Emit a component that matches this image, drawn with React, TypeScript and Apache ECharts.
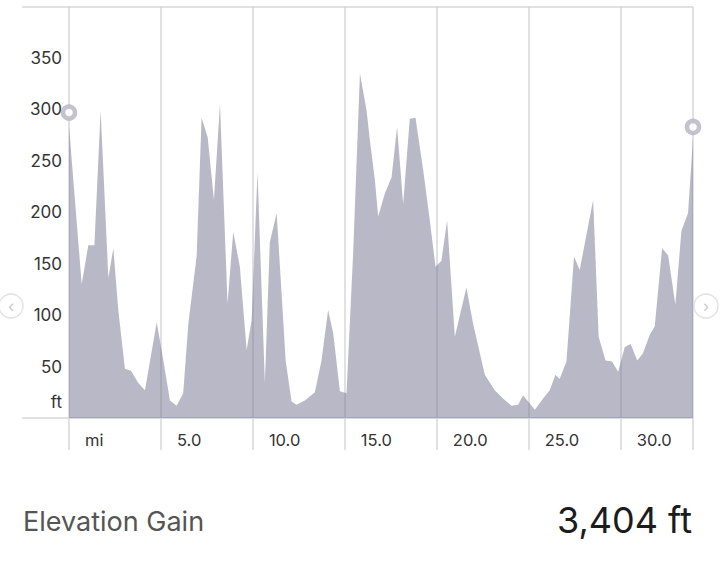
import React, { useEffect, useRef } from "react";
import * as echarts from "echarts";

// Distance along the route (miles) and elevation (ft)
const miles = [
  0.0, 0.69, 1.05, 1.38, 1.72, 2.14, 2.41, 2.68, 3.04, 3.37, 3.77, 4.13, 4.77,
  5.13, 5.49, 5.85, 6.21, 6.49, 6.94, 7.21, 7.54, 7.88, 8.21, 8.62, 8.93, 9.29,
  9.66, 9.93, 10.25, 10.65, 10.92, 11.29, 11.56, 11.78, 12.1, 12.37, 12.83,
  13.37, 13.73, 14.09, 14.37, 14.73, 15.09, 15.45, 15.82, 16.18, 16.36, 16.63,
  16.81, 17.17, 17.54, 17.84, 18.17, 18.53, 18.84, 19.26, 19.62, 19.93, 20.25,
  20.56, 20.98, 21.61, 21.97, 22.61, 23.15, 23.6, 24.06, 24.42, 24.69, 25.33,
  25.78, 26.14, 26.45, 26.68, 27.05, 27.46, 27.77, 28.5, 28.8, 29.17, 29.53,
  29.86, 30.22, 30.54, 30.9, 31.21, 31.58, 31.85, 32.25, 32.58, 32.97, 33.3,
  33.66, 33.93,
];
const elevation = [
  284, 130, 168, 168, 299, 136, 165, 105, 48, 46, 34, 27, 93, 56, 17, 12, 24,
  92, 157, 292, 273, 212, 305, 111, 181, 147, 66, 95, 239, 34, 171, 199, 121,
  56, 16, 13, 17, 25, 56, 105, 82, 26, 24, 160, 335, 299, 270, 232, 196, 218,
  234, 283, 208, 291, 292, 241, 192, 147, 153, 192, 79, 127, 92, 42, 27, 19, 12,
  13, 22, 8, 19, 27, 42, 38, 55, 157, 144, 212, 79, 56, 55, 45, 69, 72, 56, 63,
  81, 89, 165, 158, 110, 182, 199, 272,
];

// Start / finish markers
const markerMiles = [0, 33.93];
const markerValues = [297, 283];

// Axis settings
const xMax = 33.93;
const xInterval = 5;
const yMax = 400;
const yInterval = 50;
const yLabelValues = [16, 50, 100, 150, 200, 250, 300, 350];
const yEdgeTicks = [0, 400];

const summaryLabel = "Elevation Gain";
const summaryValue = "3,404 ft";

const GRID = "#d6d6dc";
const FONT = "Inter, 'Noto Sans', sans-serif";

export default function App() {
  const ref = useRef<HTMLDivElement>(null);

  useEffect(() => {
    if (!ref.current) return;
    const chart = echarts.init(ref.current, undefined, { renderer: "svg" });
    chart.setOption({
      animation: false,
      backgroundColor: "#ffffff",
      grid: { left: 69, right: 27, top: 6.6, bottom: 145, containLabel: false },
      xAxis: {
        type: "value",
        min: 0,
        max: xMax,
        interval: xInterval,
        axisLine: { show: true, lineStyle: { color: GRID, width: 1.5 } },
        axisTick: { show: true, length: 32, lineStyle: { color: GRID, width: 1.5 } },
        splitLine: { show: true, lineStyle: { color: GRID, width: 1.5 } },
        axisLabel: {
          show: true,
          align: "left",
          padding: [0, 0, 0, 16],
          margin: 13,
          color: "#333333",
          fontSize: 16.5,
          fontFamily: FONT,
          showMaxLabel: true,
          formatter: (v: number) => {
            if (v === 0) return "mi";
            if (Math.abs(v % xInterval) > 1e-6) return "";
            return v.toFixed(1);
          },
        },
      },
      yAxis: {
        type: "value",
        min: 0,
        max: yMax,
        interval: yInterval,
        axisLine: { show: false },
        axisTick: {
          show: true,
          length: 47,
          customValues: yEdgeTicks,
          lineStyle: { color: GRID, width: 1.5 },
        },
        splitLine: { show: true, lineStyle: { color: GRID, width: 1.5 } },
        axisLabel: {
          show: true,
          customValues: yLabelValues,
          margin: 7,
          color: "#333333",
          fontSize: 17,
          fontFamily: FONT,
          formatter: (v: number) => (v < 25 ? "ft" : String(v)),
        },
      },
      series: [
        {
          type: "line",
          data: miles.map((m, i) => [m, elevation[i]]),
          symbol: "none",
          lineStyle: { width: 0 },
          areaStyle: { color: "rgba(115,113,141,0.5)", opacity: 1 },
          z: 2,
        },
        {
          type: "scatter",
          data: markerMiles.map((m, i) => [m, markerValues[i]]),
          symbol: "circle",
          symbolSize: 12,
          clip: false,
          itemStyle: { color: "#ffffff", borderColor: "#b4b3c1", borderWidth: 4.5 },
          z: 5,
        },
      ],
      graphic: [
        {
          type: "circle",
          shape: { cx: 11, cy: 306, r: 12 },
          style: { fill: "#ffffff", stroke: "#e4e4e6", lineWidth: 1.5 },
        },
        {
          type: "text",
          x: 11,
          y: 306,
          style: {
            text: "‹",
            fill: "#c8c8cc",
            fontSize: 16,
            fontFamily: FONT,
            align: "center",
            verticalAlign: "middle",
          },
        },
        {
          type: "circle",
          shape: { cx: 706, cy: 306, r: 12 },
          style: { fill: "#ffffff", stroke: "#e4e4e6", lineWidth: 1.5 },
        },
        {
          type: "text",
          x: 706,
          y: 306,
          style: {
            text: "›",
            fill: "#c8c8cc",
            fontSize: 16,
            fontFamily: FONT,
            align: "center",
            verticalAlign: "middle",
          },
        },
        {
          type: "text",
          x: 23,
          y: 521,
          style: {
            text: summaryLabel,
            fill: "#555555",
            fontSize: 27,
            fontFamily: FONT,
            align: "left",
            verticalAlign: "middle",
          },
        },
        {
          type: "text",
          x: 692,
          y: 520,
          style: {
            text: summaryValue,
            fill: "#1c1c1c",
            fontSize: 36,
            fontFamily: FONT,
            align: "right",
            verticalAlign: "middle",
          },
        },
      ],
    });
    return () => chart.dispose();
  }, []);

  return (
    <div
      ref={ref}
      style={{ position: "fixed", left: 0, top: 0, width: 720, height: 563 }}
    />
  );
}
